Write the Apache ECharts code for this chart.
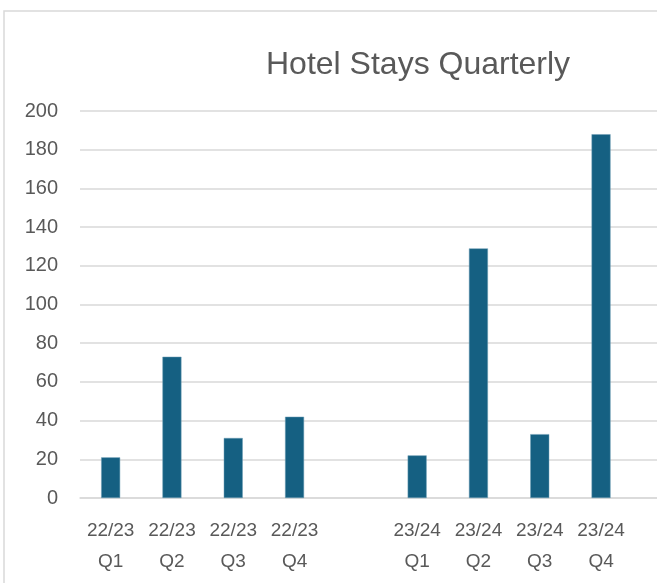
<!DOCTYPE html>
<html>
<head>
<meta charset="utf-8">
<title>Hotel Stays Quarterly</title>
<script src="https://cdn.jsdelivr.net/npm/echarts@6/dist/echarts.min.js"></script>
<style>
  html, body { margin: 0; padding: 0; background: #fff; overflow: hidden; }
  /* the source is a cropped screenshot: the chart runs past the right edge */
  #chart { width: 720px; height: 583px; }
</style>
</head>
<body>
<div id="chart"></div>
<script>
// categories (blank slots are gaps in the source sheet)
const quarters = ["22/23\nQ1", "22/23\nQ2", "22/23\nQ3", "22/23\nQ4", "", "23/24\nQ1", "23/24\nQ2", "23/24\nQ3", "23/24\nQ4", ""];
// hotel stays per quarter
const stays = [21, 73, 31, 42, null, 22, 129, 33, 188, null];

const textColor = "#595959";
const lineColor = "#d9d9d9";

const chart = echarts.init(document.getElementById("chart"));
chart.setOption({
  backgroundColor: "#fff",
  animation: false,
  title: {
    text: "Hotel Stays Quarterly",
    left: 261,
    top: 44,
    textStyle: {
      color: textColor,
      fontFamily: "Liberation Sans",
      fontWeight: "normal",
      fontSize: 32
    }
  },
  // chart frame, cut off at the right and bottom like the screenshot
  graphic: [
    {
      type: "rect",
      shape: { x: 4, y: 11, width: 900, height: 900 },
      style: { fill: "none", stroke: lineColor, lineWidth: 1.5 },
      silent: true
    }
  ],
  grid: {
    left: 80,
    top: 111,
    width: 613,
    bottom: 85,
    containLabel: false
  },
  xAxis: {
    type: "category",
    data: quarters,
    axisLine: { lineStyle: { color: lineColor, width: 1.5 } },
    axisTick: { show: false },
    axisLabel: {
      color: textColor,
      fontFamily: "Liberation Sans",
      fontSize: 19,
      lineHeight: 31,
      margin: 17,
      interval: 0
    }
  },
  yAxis: {
    type: "value",
    min: 0,
    max: 200,
    interval: 20,
    axisLine: { show: false },
    axisTick: { show: false },
    axisLabel: {
      color: textColor,
      fontFamily: "Liberation Sans",
      fontSize: 20,
      margin: 22
    },
    splitLine: { lineStyle: { color: lineColor, width: 1.5 } }
  },
  series: [
    {
      name: "Hotel Stays",
      type: "bar",
      data: stays,
      barWidth: 19,
      itemStyle: {
        color: "#156082",
        borderColor: "#6f9fb6",
        borderWidth: 0.5
      }
    }
  ]
});
</script>
</body>
</html>
